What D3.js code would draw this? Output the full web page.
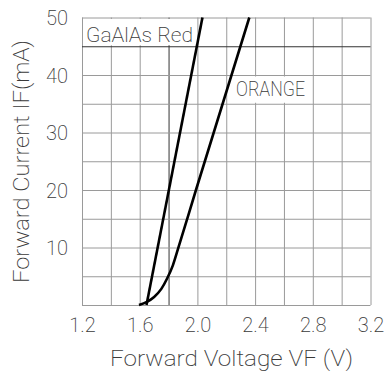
<!DOCTYPE html>
<html>
<head>
<meta charset="utf-8">
<script src="https://cdn.jsdelivr.net/npm/d3@7/dist/d3.min.js"></script>
<style>
  html, body { margin: 0; padding: 0; background: #fff; }
  svg { display: block; }
  text { font-family: Roboto, "DejaVu Sans", sans-serif; font-weight: 200; fill: #3a3a3a; }
</style>
</head>
<body>
<svg id="chart" width="386" height="376"></svg>
<script>
// ---- data ----
const xDomain = [1.2, 3.2];
const yDomain = [0, 50];
const xGrid = [1.2, 1.4, 1.6, 1.8, 2.0, 2.2, 2.4, 2.6, 2.8, 3.0, 3.2];
const yGrid = [0, 5, 10, 15, 20, 25, 30, 35, 40, 45, 50];
const xTickValues = [1.2, 1.6, 2.0, 2.4, 2.8, 3.2];
const xTickLabels = ["1.2", "1.6", "2.0", "2.4", "2.8", "3.2"];
const yTickValues = [10, 20, 30, 40, 50];
const yTickLabels = ["10", "20", "30", "40", "50"];
const darkVLine = 1.8;
const darkHLine = 45;

// GaAlAs Red: forward voltage (V) vs current (mA)
const redV = [1.647, 2.035];
const redI = [0, 50];
// Orange
const orangeV = [1.595, 1.65, 1.70, 1.75, 1.79, 1.83, 1.865, 1.99, 2.36];
const orangeI = [0, 0.55, 1.4, 2.8, 4.6, 6.9, 9.7, 20, 50];

const xTitle = "Forward Voltage VF (V)";
const yTitle = "Forward Current IF(mA)";
const redLabel = "GaAlAs Red";
const orangeLabel = "ORANGE";

// ---- layout ----
const svg = d3.select("#chart");
const mLeft = 82, mRight = 370.5, mTop = 17.5, mBottom = 305;
const x = d3.scaleLinear().domain(xDomain).range([mLeft, mRight]);
const y = d3.scaleLinear().domain(yDomain).range([mBottom, mTop]);

const gridColor = "#9a9a9a";
const textColor = "#3a3a3a";

// grid via axes
const gx = svg.append("g").attr("transform", `translate(0,${mBottom})`)
  .call(d3.axisBottom(x).tickValues(xGrid).tickSize(-(mBottom - mTop)).tickFormat(""));
gx.select(".domain").remove();
gx.selectAll(".tick line").attr("stroke", d => d === darkVLine ? "#333" : gridColor).attr("stroke-width", 1);

const gy = svg.append("g").attr("transform", `translate(${mLeft},0)`)
  .call(d3.axisLeft(y).tickValues(yGrid).tickSize(-(mRight - mLeft)).tickFormat(""));
gy.select(".domain").remove();
gy.selectAll(".tick line").attr("stroke", d => d === darkHLine ? "#333" : gridColor).attr("stroke-width", 1);

// label backgrounds (hide grid behind labels)
svg.append("rect")
  .attr("x", x(1.2) + 1.5).attr("y", y(50) + 1.5)
  .attr("width", x(2.0) - x(1.2) - 2.5).attr("height", y(45) - y(50) - 2.5)
  .attr("fill", "#fff");
svg.append("rect")
  .attr("x", x(2.2) + 1.5).attr("y", y(40) + 1.5)
  .attr("width", x(2.8) - x(2.2) - 2.5).attr("height", y(35) - y(40) - 2.5)
  .attr("fill", "#fff");

// tick labels
const ax = svg.append("g").attr("transform", `translate(0,${mBottom})`)
  .call(d3.axisBottom(x).tickValues(xTickValues).tickSize(0).tickPadding(27)
    .tickFormat((d, i) => xTickLabels[i]));
ax.select(".domain").remove();
ax.selectAll("text").attr("font-size", 20).attr("fill", textColor)
  .attr("font-family", "Roboto").attr("font-weight", 200).attr("dy", 0);

const ay = svg.append("g").attr("transform", `translate(${mLeft},0)`)
  .call(d3.axisLeft(y).tickValues(yTickValues).tickSize(0).tickPadding(14)
    .tickFormat((d, i) => yTickLabels[i]));
ay.select(".domain").remove();
ay.selectAll("text").attr("font-size", 20).attr("fill", textColor)
  .attr("font-family", "Roboto").attr("font-weight", 200).attr("dy", 7);

// curves
svg.append("path")
  .datum(redV.map((v, i) => [v, redI[i]]))
  .attr("d", d3.line().x(d => x(d[0])).y(d => y(d[1])).curve(d3.curveLinear))
  .attr("fill", "none").attr("stroke", "#000").attr("stroke-width", 2.6);
svg.append("path")
  .datum(orangeV.map((v, i) => [v, orangeI[i]]))
  .attr("d", d3.line().x(d => x(d[0])).y(d => y(d[1])).curve(d3.curveMonotoneX))
  .attr("fill", "none").attr("stroke", "#000").attr("stroke-width", 2.6);

// series labels
svg.append("text").attr("x", 86).attr("y", 41.5).attr("font-size", 21)
  .attr("textLength", 107).attr("lengthAdjust", "spacingAndGlyphs").text(redLabel);
svg.append("text").attr("x", 236).attr("y", 96).attr("font-size", 21)
  .attr("textLength", 69).attr("lengthAdjust", "spacingAndGlyphs").text(orangeLabel);

// axis titles
svg.append("text").attr("x", 110).attr("y", 366).attr("font-size", 22)
  .attr("textLength", 243).attr("lengthAdjust", "spacingAndGlyphs").text(xTitle);
svg.append("text").attr("transform", "translate(28.5,283) rotate(-90)")
  .attr("x", 0).attr("y", 0).attr("font-size", 22)
  .attr("textLength", 243).attr("lengthAdjust", "spacingAndGlyphs").text(yTitle);
</script>
</body>
</html>
